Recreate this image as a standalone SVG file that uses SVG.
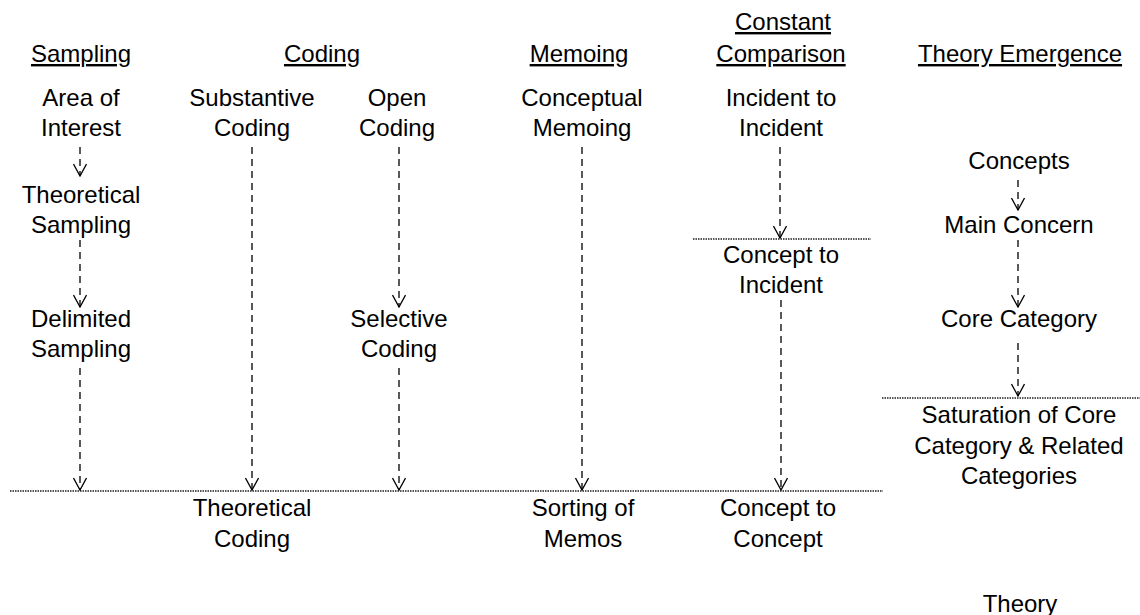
<svg xmlns="http://www.w3.org/2000/svg" width="1140" height="615" viewBox="0 0 1140 615">
<style>
text{font-family:"Liberation Sans",Arial,sans-serif;font-size:24px;fill:#000;text-anchor:middle}
.h{text-decoration:underline}
.arr{stroke:#000;stroke-width:1.3;stroke-dasharray:7 5;fill:none;marker-end:url(#ah)}
.bar{stroke:#555;stroke-width:2.2;stroke-dasharray:1.5 1;fill:none}
</style>
<defs>
<marker id="ah" markerUnits="userSpaceOnUse" viewBox="0 0 14 14" markerWidth="14" markerHeight="14" refX="13" refY="7" orient="auto">
<path d="M1,0.5 L13,7 L1,13.5" fill="none" stroke="#000" stroke-width="1.3"/>
</marker>
</defs>
<rect width="1140" height="615" fill="#fff"/>
<g id="headers">
<text class="h" x="81" y="62">Sampling</text>
<text class="h" x="322" y="62">Coding</text>
<text class="h" x="579" y="62">Memoing</text>
<text class="h" x="783" y="30">Constant</text>
<text class="h" x="781" y="62">Comparison</text>
<text class="h" x="1020" y="62">Theory Emergence</text>
</g>
<g id="connectors">
<line class="bar" x1="10" y1="491" x2="883" y2="491"/>
<line class="bar" x1="693" y1="239" x2="871" y2="239"/>
<line class="bar" x1="882" y1="398" x2="1140" y2="398"/>
<line class="arr" x1="80" y1="147" x2="80" y2="176"/>
<line class="arr" x1="80" y1="240" x2="80" y2="307"/>
<line class="arr" x1="80" y1="368" x2="80" y2="490"/>
<line class="arr" x1="252" y1="147" x2="252" y2="490"/>
<line class="arr" x1="399" y1="147" x2="399" y2="307"/>
<line class="arr" x1="399" y1="368" x2="399" y2="490"/>
<line class="arr" x1="582" y1="147" x2="582" y2="490"/>
<line class="arr" x1="780" y1="147" x2="780" y2="238"/>
<line class="arr" x1="781" y1="300" x2="781" y2="490"/>
<line class="arr" x1="1018" y1="180" x2="1018" y2="210"/>
<line class="arr" x1="1018" y1="240" x2="1018" y2="307"/>
<line class="arr" x1="1018" y1="343" x2="1018" y2="396"/>
</g>
<g id="area-of-interest"><text x="81" y="106">Area of</text><text x="81" y="136">Interest</text></g>
<g id="theoretical-sampling"><text x="81" y="203">Theoretical</text><text x="81" y="233">Sampling</text></g>
<g id="delimited-sampling"><text x="81" y="327">Delimited</text><text x="81" y="357">Sampling</text></g>
<g id="substantive-coding"><text x="252" y="106">Substantive</text><text x="252" y="136">Coding</text></g>
<g id="open-coding"><text x="397" y="106">Open</text><text x="397" y="136">Coding</text></g>
<g id="selective-coding"><text x="399" y="327">Selective</text><text x="399" y="357">Coding</text></g>
<g id="theoretical-coding"><text x="252" y="516">Theoretical</text><text x="252" y="547">Coding</text></g>
<g id="conceptual-memoing"><text x="582" y="106">Conceptual</text><text x="582" y="136">Memoing</text></g>
<g id="sorting-of-memos"><text x="583" y="516">Sorting of</text><text x="583" y="547">Memos</text></g>
<g id="incident-to-incident"><text x="781" y="106">Incident to</text><text x="781" y="136">Incident</text></g>
<g id="concept-to-incident"><text x="781" y="263">Concept to</text><text x="781" y="293">Incident</text></g>
<g id="concept-to-concept"><text x="778" y="516">Concept to</text><text x="778" y="547">Concept</text></g>
<g id="concepts"><text x="1019" y="169">Concepts</text></g>
<g id="main-concern"><text x="1019" y="233">Main Concern</text></g>
<g id="core-category"><text x="1019" y="327">Core Category</text></g>
<g id="saturation"><text x="1019" y="423">Saturation of Core</text><text x="1019" y="454">Category &amp; Related</text><text x="1019" y="484">Categories</text></g>
<g id="theory"><text x="1020" y="612">Theory</text></g>
</svg>
